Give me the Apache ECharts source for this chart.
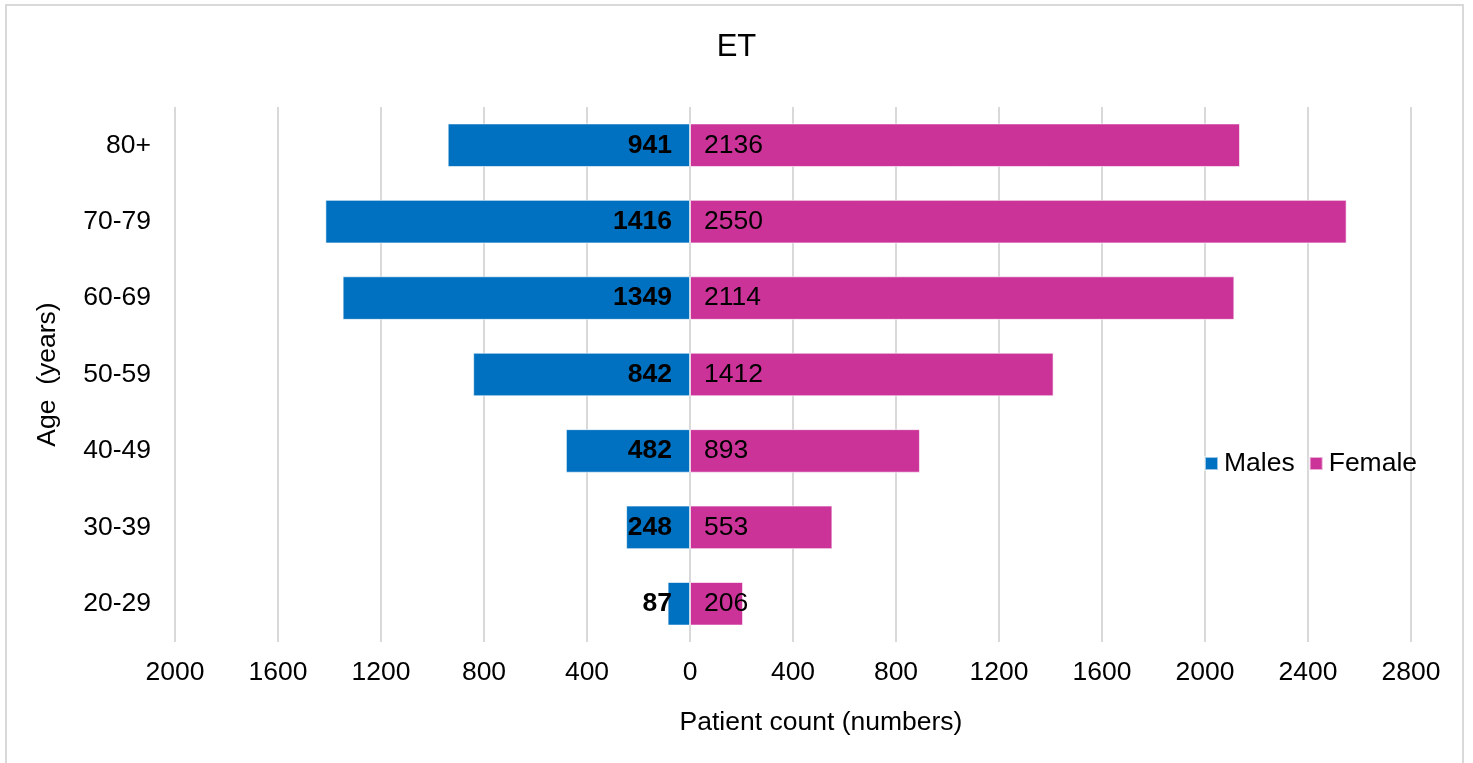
<!DOCTYPE html>
<html>
<head>
<meta charset="utf-8">
<script src="https://cdn.jsdelivr.net/npm/echarts@6/dist/echarts.min.js"></script>
<style>
  html, body { margin: 0; padding: 0; background: #fff; }
  #chart { width: 1473px; height: 763px; }
</style>
</head>
<body>
<div id="chart"></div>
<script>
// ==================
// DATA
// ==================
const ageGroups = ['20-29', '30-39', '40-49', '50-59', '60-69', '70-79', '80+'];
const males = [87, 248, 482, 842, 1349, 1416, 941];
const females = [206, 553, 893, 1412, 2114, 2550, 2136];

const FONT = 'Liberation Sans, Arial, sans-serif';
const FS = 26.5;

const chart = echarts.init(document.getElementById('chart'));

const option = {
    animation: false,
    title: {
        text: 'ET',
        left: 'center',
        top: 27,
        textStyle: { color: '#000', fontSize: 31, fontWeight: 'normal', fontFamily: FONT }
    },
    legend: {
        left: 1199,
        top: 445,
        icon: 'rect',
        itemWidth: 13,
        itemHeight: 13,
        itemGap: 14,
        textStyle: { color: '#000', fontSize: FS, fontFamily: FONT, padding: [0, 0, 0, 1] },
        data: ['Males', 'Female']
    },
    grid: { left: 175, right: 62, top: 107, bottom: 121, containLabel: false },
    xAxis: {
        type: 'value',
        min: -2000,
        max: 2800,
        interval: 400,
        name: 'Patient count (numbers)',
        nameLocation: 'middle',
        nameGap: 67,
        nameTextStyle: { color: '#000', fontSize: FS, fontFamily: FONT, padding: [0, 0, 0, 56] },
        axisLine: { show: false },
        axisTick: { show: false },
        axisLabel: {
            color: '#000', fontSize: FS, fontFamily: FONT, margin: 17,
            formatter: v => String(Math.abs(v))
        },
        splitLine: { show: true, lineStyle: { color: '#d9d9d9', width: 2 } }
    },
    yAxis: {
        type: 'category',
        data: ageGroups,
        name: 'Age  (years)',
        nameLocation: 'middle',
        nameGap: 114,
        nameTextStyle: { color: '#000', fontSize: FS, fontFamily: FONT },
        axisLine: { show: false },
        axisTick: { show: false },
        axisLabel: { color: '#000', fontSize: FS, fontFamily: FONT, margin: 24 }
    },
    series: [
        {
            name: 'Males',
            type: 'bar',
            data: males.map(v => -v),
            barWidth: '57%',
            barGap: '-100%',
            itemStyle: { color: '#0070c0', borderColor: 'rgba(255,255,255,0.6)', borderWidth: 1 },
            label: {
                show: true,
                position: 'insideRight',
                distance: 18,
                color: '#000',
                fontSize: FS,
                fontWeight: 'bold',
                fontFamily: FONT,
                formatter: p => String(Math.abs(p.value))
            }
        },
        {
            name: 'Female',
            type: 'bar',
            data: females,
            barWidth: '57%',
            itemStyle: { color: '#cc3399', borderColor: 'rgba(255,255,255,0.6)', borderWidth: 1 },
            label: {
                show: true,
                position: 'insideLeft',
                distance: 14,
                color: '#000',
                fontSize: FS,
                fontFamily: FONT
            }
        }
    ],
    graphic: [{
        type: 'rect',
        shape: { x: 6, y: 5, width: 1457, height: 770 },
        style: { fill: null, stroke: '#d9d9d9', lineWidth: 2 },
        silent: true
    }]
};

chart.setOption(option);
</script>
</body>
</html>
